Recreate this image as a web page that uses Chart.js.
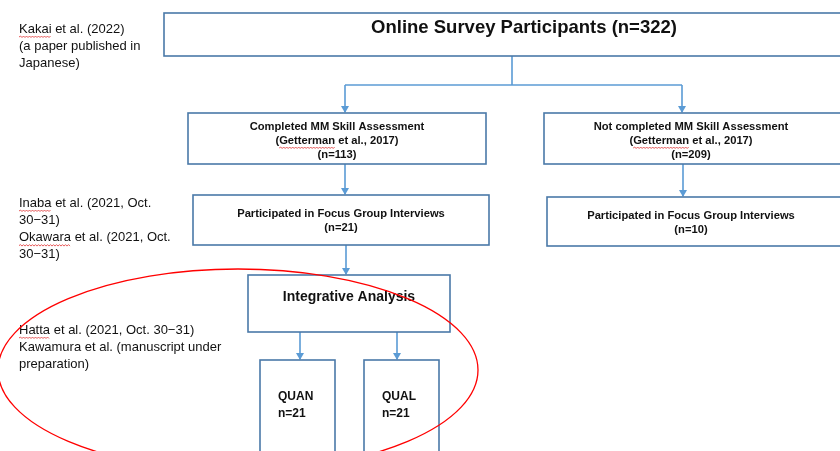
<!DOCTYPE html>
<html>
<head>
<meta charset="utf-8">
<script src="https://cdn.jsdelivr.net/npm/chart.js@4/dist/chart.umd.min.js"></script>
<style>
  html, body { margin: 0; padding: 0; background: #ffffff; }
  #c { display: block; }
</style>
</head>
<body>
<canvas id="c" width="840" height="451"></canvas>
<script>
// ---------- diagram data (in a 840 x 451 data space) ----------
const nodeLines = [
  ["Online Survey Participants (n=322)"],
  ["Completed MM Skill Assessment", "(Getterman et al., 2017)", "(n=113)"],
  ["Not completed MM Skill Assessment", "(Getterman et al., 2017)", "(n=209)"],
  ["Participated in Focus Group Interviews", "(n=21)"],
  ["Participated in Focus Group Interviews", "(n=10)"],
  ["Integrative Analysis"],
  ["QUAN", "n=21"],
  ["QUAL", "n=21"]
];
const nodeLeft   = [164, 188, 544, 193, 547, 248, 260, 364];
const nodeTop    = [13, 113, 113, 195, 197, 275, 360, 360];
const nodeRight  = [846, 486, 846, 489, 846, 450, 335, 439];
const nodeBottom = [56, 164, 164, 245, 246, 332, 460, 460];
const nodeTextY  = [28, 127, 127, 214, 216, 297, 397, 397];

const noteLines = [
  ["Kakai et al. (2022)", "(a paper published in", "Japanese)"],
  ["Inaba et al. (2021, Oct.", "30\u221231)", "Okawara et al. (2021, Oct.", "30\u221231)"],
  ["Hatta et al. (2021, Oct. 30\u221231)", "Kawamura et al. (manuscript under", "preparation)"]
];
const noteTopY = [29, 203, 330];
const spellWords = ["Kakai", "Inaba", "Okawara", "Hatta", "Getterman"];

// connector polylines: [x, y] pairs; arrows flagged
const connectorPoints = [
  [[512, 56], [512, 85]],
  [[345, 85], [682, 85]],
  [[345, 85], [345, 112]],
  [[682, 85], [682, 112]],
  [[345, 164], [345, 194]],
  [[683, 164], [683, 196]],
  [[346, 245], [346, 274]],
  [[300, 332], [300, 359]],
  [[397, 332], [397, 359]]
];
const connectorArrow = [false, false, true, true, true, true, true, true, true];

// red ellipse: centre, radii
const ellipseCenter = [238, 370];
const ellipseRadii = [240, 101];

// ---------- helpers ----------
const BOX_COLOR = '#4a79a8';
const LINE_COLOR = '#5b9bd5';
const FONT = "'Liberation Sans', Arial, sans-serif";

function squiggle(ctx, x, y, w) {
  ctx.save();
  ctx.strokeStyle = '#e03030';
  ctx.lineWidth = 0.8;
  ctx.beginPath();
  let up = true;
  ctx.moveTo(x, y);
  for (let xx = x + 1.5; xx <= x + w; xx += 1.5) {
    ctx.lineTo(xx, up ? y - 1 : y + 0.5);
    up = !up;
  }
  ctx.stroke();
  ctx.restore();
}

function drawTextLine(ctx, text, x, y, align, uOff) {
  ctx.textAlign = align;
  ctx.textBaseline = 'middle';
  const full = ctx.measureText(text).width;
  ctx.fillText(text, x, y);
  const startX = align === 'center' ? x - full / 2 : x;
  spellWords.forEach(function (wd) {
    const idx = text.indexOf(wd);
    if (idx >= 0) {
      const pre = ctx.measureText(text.slice(0, idx)).width;
      const ww = ctx.measureText(wd).width;
      squiggle(ctx, startX + pre, y + uOff, ww);
    }
  });
}

const diagramPlugin = {
  id: 'diagram',
  afterDatasetsDraw(chart) {
    const ctx = chart.ctx;
    const xs = chart.scales.x, ys = chart.scales.y;
    const px = v => xs.getPixelForValue(v);
    const py = v => ys.getPixelForValue(v);

    // arrow heads
    ctx.save();
    ctx.fillStyle = LINE_COLOR;
    connectorPoints.forEach(function (pts, i) {
      if (!connectorArrow[i]) return;
      const e = pts[pts.length - 1];
      const x = px(e[0]), y = py(e[1]);
      ctx.beginPath();
      ctx.moveTo(x, y + 1);
      ctx.lineTo(x - 4, y - 6);
      ctx.lineTo(x + 4, y - 6);
      ctx.closePath();
      ctx.fill();
    });
    ctx.restore();

    // boxes
    ctx.save();
    nodeLines.forEach(function (lines, i) {
      const l = px(nodeLeft[i]), r = px(nodeRight[i]);
      const t = py(nodeTop[i]), b = py(nodeBottom[i]);
      ctx.fillStyle = '#ffffff';
      ctx.fillRect(l, t, r - l, b - t);
      ctx.strokeStyle = BOX_COLOR;
      ctx.lineWidth = 1.6;
      ctx.strokeRect(l, t, r - l, b - t);
      ctx.fillStyle = '#111111';
      let size = 11.2, lh = 14, align = 'center', tx;
      if (i === 0) { size = 18.5; }
      if (i === 5) { size = 14; }
      if (i >= 6) { size = 12; lh = 17; align = 'left'; }
      ctx.font = 'bold ' + size + 'px ' + FONT;
      if (i === 0) tx = px(524);
      else if (align === 'center') tx = (l + r) / 2;
      else tx = l + 18;
      if (i === 2 || i === 4) tx = px(691);
      lines.forEach(function (s, k) {
        drawTextLine(ctx, s, tx, py(nodeTextY[i]) + k * lh, align, 7);
      });
    });
    ctx.restore();

    // side notes
    ctx.save();
    ctx.fillStyle = '#111111';
    ctx.font = '13px ' + FONT;
    noteLines.forEach(function (lines, i) {
      lines.forEach(function (s, k) {
        drawTextLine(ctx, s, px(19), py(noteTopY[i]) + k * 17.3, 'left', 8);
      });
    });
    ctx.restore();

    // red ellipse
    ctx.save();
    ctx.strokeStyle = '#ff0000';
    ctx.lineWidth = 1.3;
    const cx = px(ellipseCenter[0]), cy = py(ellipseCenter[1]);
    const rx = px(ellipseCenter[0] + ellipseRadii[0]) - cx;
    const ry = py(ellipseCenter[1] + ellipseRadii[1]) - cy;
    ctx.beginPath();
    ctx.ellipse(cx, cy, Math.abs(rx), Math.abs(ry), 0, 0, Math.PI * 2);
    ctx.stroke();
    ctx.restore();
  }
};

const datasets = connectorPoints.map(function (pts) {
  return {
    data: pts.map(p => ({ x: p[0], y: p[1] })),
    showLine: true,
    borderColor: LINE_COLOR,
    borderWidth: 1.6,
    pointRadius: 0,
    fill: false
  };
});

new Chart(document.getElementById('c'), {
  type: 'scatter',
  data: { datasets: datasets },
  options: {
    responsive: false,
    animation: false,
    layout: { padding: 0 },
    plugins: { legend: { display: false }, tooltip: { enabled: false }, title: { display: false } },
    scales: {
      x: { type: 'linear', min: 0, max: 840, display: false },
      y: { type: 'linear', min: 0, max: 451, reverse: true, display: false }
    }
  },
  plugins: [diagramPlugin]
});
</script>
</body>
</html>
